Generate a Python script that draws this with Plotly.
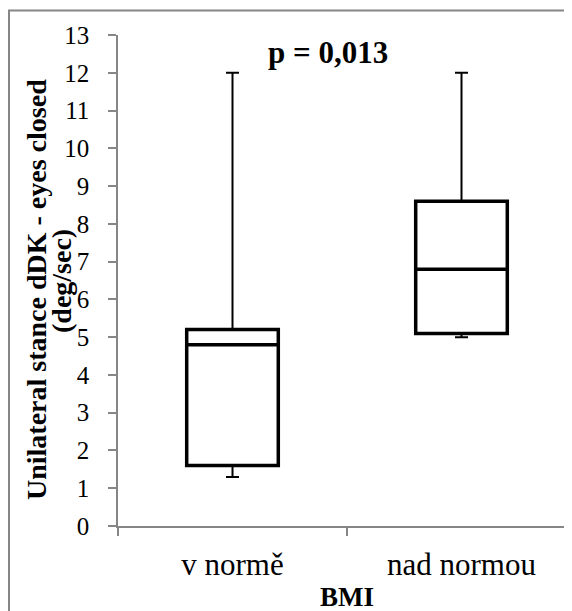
import plotly.graph_objects as go

categories = ["v normě", "nad normou"]
q1 = [1.6, 5.1]
median = [4.8, 6.8]
q3 = [5.2, 8.6]
minimum = [1.3, 5.0]
maximum = [12.0, 12.0]
y_ticks = list(range(0, 14))

title_text = "<b>p = 0,013</b>"
y_title_1 = "<b>Unilateral stance dDK - eyes closed</b>"
y_title_2 = "<b>(deg/sec)</b>"
x_title = "<b>BMI</b>"

# page body has an 8px margin: screenshot px = figure px + 8
OFF = 8
W, H = 572, 611
L, R, T, B = 118 - OFF, 0, 35 - OFF, H - (526 - OFF)
pw = W - L - R
ph = H - T - B
CAT_W = 229.0  # px per category
x_max = -0.5 + pw / CAT_W

FONT = "Times New Roman, Liberation Serif, DejaVu Serif, serif"
AX = "#868686"

fig = go.Figure()

fig.add_trace(go.Box(
    x=categories, q1=q1, median=median, q3=q3,
    lowerfence=q1, upperfence=q3,
    width=0.4, whiskerwidth=0,
    fillcolor="white", line=dict(color="black", width=3.5),
    boxpoints=False, showlegend=False, hoverinfo="skip",
))

upper_len = [mx - q for mx, q in zip(maximum, q3)]
lower_len = [q - mn for q, mn in zip(q1, minimum)]

fig.add_trace(go.Scatter(
    x=categories, y=q3, mode="markers",
    marker=dict(size=1, color="rgba(0,0,0,0)"),
    error_y=dict(type="data", symmetric=False, array=upper_len,
                 arrayminus=[0, 0], color="black", thickness=2, width=6.5),
    showlegend=False, hoverinfo="skip",
))
fig.add_trace(go.Scatter(
    x=categories, y=q1, mode="markers",
    marker=dict(size=1, color="rgba(0,0,0,0)"),
    error_y=dict(type="data", symmetric=False, array=[0, 0],
                 arrayminus=lower_len, color="black", thickness=2, width=6.5),
    showlegend=False, hoverinfo="skip",
))

def px_x(px):
    return (px - OFF - L) / pw

def px_y(py):
    return (H - B - (py - OFF)) / ph

fig.update_layout(
    width=W, height=H,
    margin=dict(l=L, r=R, t=T, b=B, pad=0),
    paper_bgcolor="white", plot_bgcolor="white",
    font=dict(family=FONT, color="black"),
    xaxis=dict(
        type="category", range=[-0.5, x_max],
        showline=True, linecolor=AX, linewidth=1.5,
        ticks="outside", tickson="boundaries", ticklen=8, tickcolor=AX, tickwidth=1.5,
        tickfont=dict(size=31, family=FONT, color="black"),
        ticklabelstandoff=10,
        showgrid=False, zeroline=False,
    ),
    yaxis=dict(
        range=[0, 13], tickvals=y_ticks,
        showline=True, linecolor=AX, linewidth=1.5,
        ticks="outside", ticklen=8, tickcolor=AX, tickwidth=1.5,
        tickfont=dict(size=25, family=FONT, color="black"),
        ticklabelstandoff=14,
        showgrid=False, zeroline=False,
    ),
    annotations=[
        dict(text=title_text, xref="paper", yref="paper",
             x=px_x(327.5), y=px_y(52),
             xanchor="center", yanchor="middle", showarrow=False,
             font=dict(size=31, family=FONT, color="black")),
        dict(text=y_title_1, xref="paper", yref="paper",
             x=px_x(36), y=px_y(290),
             xanchor="center", yanchor="middle", showarrow=False, textangle=-90,
             font=dict(size=28, family=FONT, color="black")),
        dict(text=y_title_2, xref="paper", yref="paper",
             x=px_x(61), y=px_y(281),
             xanchor="center", yanchor="middle", showarrow=False, textangle=-90,
             font=dict(size=28, family=FONT, color="black")),
        dict(text=x_title, xref="paper", yref="paper",
             x=px_x(347), y=px_y(597),
             xanchor="center", yanchor="middle", showarrow=False,
             font=dict(size=27, family=FONT, color="black")),
    ],
    shapes=[
        dict(type="line", xref="paper", yref="paper",
             x0=px_x(9), x1=px_x(9),
             y0=px_y(10.5), y1=px_y(H + 20),
             line=dict(color=AX, width=2)),
        dict(type="line", xref="paper", yref="paper",
             x0=px_x(8), x1=px_x(W + 20),
             y0=px_y(10.5), y1=px_y(10.5),
             line=dict(color=AX, width=2)),
    ],
)

fig.write_html("out.html")
